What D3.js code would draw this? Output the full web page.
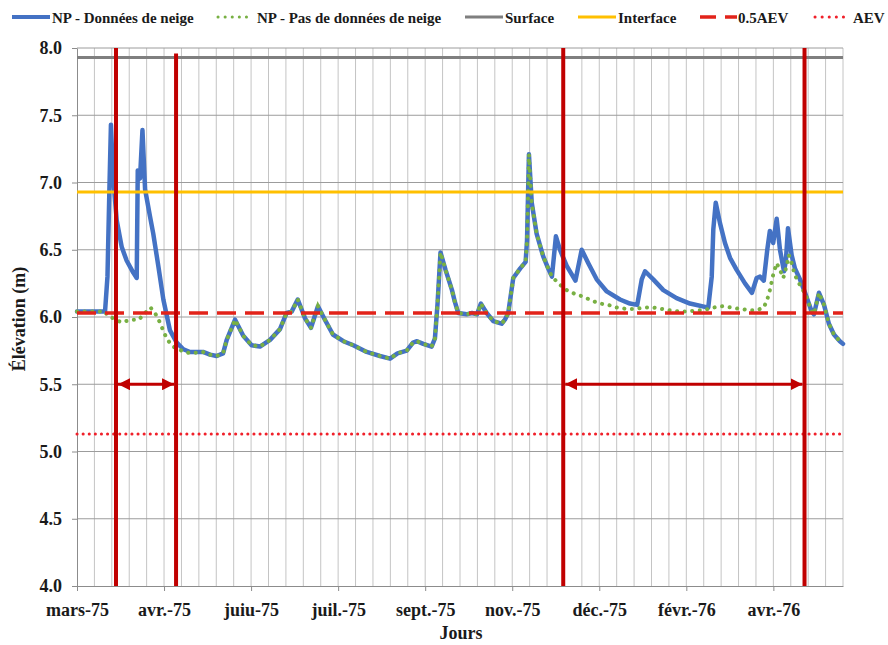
<!DOCTYPE html>
<html lang="fr">
<head>
<meta charset="utf-8">
<title>Élévation de la nappe</title>
<script src="https://cdn.jsdelivr.net/npm/d3@7"></script>
<style>
  html, body { margin: 0; padding: 0; background: #ffffff; }
  svg { display: block; font-family: "Liberation Serif", "Times New Roman", serif; font-weight: bold; }
</style>
</head>
<body>
<svg id="chart" width="888" height="645"></svg>
<script>
// Axis labels (category axis, one label every 5 grid intervals)
const xLabels = ["mars-75", "avr.-75", "juiu-75", "juil.-75", "sept.-75", "nov.-75", "déc.-75", "févr.-76", "avr.-76"];
const yTicks = [4.0, 4.5, 5.0, 5.5, 6.0, 6.5, 7.0, 7.5, 8.0];

// NP - with snow data (position along the axis, water level in m)
const snowDays = [0.00, 1.03, 1.61, 1.75, 1.87, 1.95, 2.07, 2.28, 2.57, 2.85, 3.23, 3.43, 3.49, 3.62, 3.76, 3.91, 4.19, 4.38, 4.67, 4.96,
  5.34, 5.73, 6.11, 6.49, 7.24, 7.64, 8.02, 8.39, 8.60, 9.08, 9.55, 10.03, 10.51, 11.09, 11.66, 12.04, 12.33, 12.68, 13.10, 13.44,
  13.84, 14.24, 14.70, 15.30, 15.87, 16.64, 17.40, 17.98, 18.41, 18.94, 19.30, 19.53, 19.89, 20.37, 20.56, 20.71, 20.88, 21.17, 21.54, 21.71,
  21.90, 22.38, 22.69, 22.98, 23.20, 23.53, 23.91, 24.39, 24.58, 24.77, 25.06, 25.45, 25.77, 25.85, 25.96, 26.12, 26.40, 26.78, 27.07, 27.28,
  27.51, 27.74, 28.13, 28.63, 28.99, 29.37, 29.85, 30.43, 31.19, 31.76, 32.18, 32.44, 32.63, 33.10, 33.68, 34.44, 35.21, 36.26, 36.46, 36.55,
  36.69, 36.93, 37.22, 37.51, 37.89, 38.37, 38.77, 39.04, 39.23, 39.45, 39.65, 39.80, 39.99, 40.19, 40.38, 40.61, 40.72, 40.84, 41.05, 41.24,
  41.53, 41.82, 42.20, 42.33, 42.62, 42.91, 43.19, 43.48, 43.82, 44.00];
const snowLevels = [6.04, 6.04, 6.04, 6.30, 7.00, 7.43, 7.05, 6.72, 6.52, 6.42, 6.33, 6.29, 7.09, 7.03, 7.39, 6.95, 6.75, 6.62, 6.38, 6.13,
  5.90, 5.81, 5.76, 5.74, 5.74, 5.72, 5.71, 5.73, 5.83, 5.98, 5.86, 5.79, 5.78, 5.83, 5.91, 6.03, 6.04, 6.13, 5.99, 5.92,
  6.08, 5.98, 5.87, 5.82, 5.79, 5.74, 5.71, 5.69, 5.73, 5.75, 5.81, 5.82, 5.80, 5.78, 5.84, 6.10, 6.48, 6.35, 6.20, 6.11,
  6.03, 6.02, 6.03, 6.02, 6.10, 6.03, 5.97, 5.95, 5.98, 6.03, 6.29, 6.36, 6.41, 6.57, 7.21, 6.85, 6.62, 6.45, 6.36, 6.30,
  6.60, 6.50, 6.38, 6.27, 6.50, 6.40, 6.28, 6.19, 6.13, 6.10, 6.09, 6.28, 6.34, 6.28, 6.20, 6.14, 6.10, 6.07, 6.30, 6.65,
  6.85, 6.70, 6.55, 6.44, 6.35, 6.25, 6.18, 6.29, 6.30, 6.27, 6.50, 6.64, 6.55, 6.73, 6.50, 6.34, 6.42, 6.66, 6.46, 6.36,
  6.28, 6.18, 6.04, 6.02, 6.18, 6.09, 5.95, 5.87, 5.82, 5.80];

// NP - without snow data
const noSnowDays = [0.00, 1.61, 1.70, 2.07, 2.56, 3.10, 3.55, 3.91, 4.23, 4.52, 4.76, 5.01, 5.20, 5.52, 6.01, 6.49, 7.24, 7.64, 8.02, 8.39,
  8.60, 9.08, 9.55, 10.03, 10.51, 11.09, 11.66, 12.04, 12.33, 12.68, 13.10, 13.44, 13.84, 14.24, 14.70, 15.30, 15.87, 16.64, 17.40, 17.98,
  18.41, 18.94, 19.30, 19.53, 19.89, 20.37, 20.56, 20.71, 20.88, 21.17, 21.54, 21.71, 21.90, 22.38, 22.69, 22.98, 23.20, 23.53, 23.91, 24.39,
  24.58, 24.77, 25.06, 25.45, 25.77, 25.85, 25.96, 26.12, 26.40, 26.78, 27.07, 27.28, 27.74, 28.13, 28.63, 29.11, 29.60, 30.04, 30.52, 31.00,
  31.57, 32.05, 32.53, 33.10, 33.58, 34.05, 34.63, 35.11, 35.59, 35.97, 36.55, 37.03, 37.60, 38.08, 38.65, 39.04, 39.45, 39.65, 39.80, 40.00,
  40.19, 40.38, 40.57, 40.76, 40.89, 41.05, 41.24, 41.44, 41.63, 41.82, 42.20, 42.33, 42.62, 42.91, 43.19, 43.48, 43.82, 44.00];
const noSnowLevels = [6.04, 6.04, 6.02, 5.99, 5.96, 5.98, 5.98, 6.03, 6.07, 6.02, 5.96, 5.88, 5.83, 5.78, 5.75, 5.73, 5.74, 5.72, 5.71, 5.73,
  5.83, 5.98, 5.86, 5.79, 5.78, 5.83, 5.91, 6.03, 6.04, 6.13, 5.99, 5.92, 6.08, 5.98, 5.87, 5.82, 5.79, 5.74, 5.71, 5.69,
  5.73, 5.75, 5.81, 5.82, 5.80, 5.78, 5.84, 6.10, 6.48, 6.35, 6.20, 6.11, 6.03, 6.02, 6.03, 6.02, 6.10, 6.03, 5.97, 5.95,
  5.98, 6.03, 6.29, 6.36, 6.41, 6.57, 7.21, 6.85, 6.62, 6.45, 6.36, 6.30, 6.24, 6.20, 6.17, 6.15, 6.12, 6.10, 6.09, 6.07,
  6.06, 6.06, 6.07, 6.07, 6.06, 6.05, 6.04, 6.04, 6.05, 6.05, 6.07, 6.08, 6.07, 6.06, 6.05, 6.05, 6.07, 6.13, 6.20, 6.32,
  6.40, 6.35, 6.29, 6.38, 6.46, 6.40, 6.31, 6.26, 6.21, 6.18, 6.04, 6.02, 6.18, 6.09, 5.95, 5.87, 5.82, 5.80];

// Reference elevations (m)
const surfaceLevel = 7.93;
const interfaceLevel = 6.93;
const halfAevLevel = 6.03;
const aevLevel = 5.13;

// Period boundaries and the arrow spans between them
const boundaryDays = [2.24, 5.69, 27.93, 41.79];
const boundaryTops = [8.0, 7.96, 8.0, 8.0];
const periodSpans = [[2.24, 5.69], [27.93, 41.79]];
const arrowLevel = 5.5;

const svg = d3.select("#chart");

const x = d3.scaleLinear().domain([0, 44]).range([77, 843]);
const y = d3.scaleLinear().domain([4, 8]).range([586, 48]);

// Vertical gridlines (every interval)
svg.append("g")
  .selectAll("line")
  .data(d3.range(1, 45))
  .join("line")
  .attr("x1", d => x(d)).attr("x2", d => x(d))
  .attr("y1", y(8)).attr("y2", y(4))
  .attr("stroke", "#c4c4c4").attr("stroke-width", 1);

// Horizontal gridlines
svg.append("g")
  .selectAll("line")
  .data(yTicks.filter(d => d > 4))
  .join("line")
  .attr("x1", x(0)).attr("x2", x(44))
  .attr("y1", d => y(d)).attr("y2", d => y(d))
  .attr("stroke", "#9c9c9c").attr("stroke-width", 1);

// Axes
const xAxis = svg.append("g")
  .attr("transform", `translate(0,${y(4)})`)
  .call(d3.axisBottom(x)
    .tickValues(d3.range(0, 41, 5))
    .tickFormat(d => xLabels[d / 5])
    .tickSize(5)
    .tickSizeOuter(0));
xAxis.select(".domain").attr("stroke", "#8c8c8c");
xAxis.selectAll(".tick line").attr("stroke", "#8c8c8c");
xAxis.selectAll(".tick text")
  .attr("y", 14)
  .attr("dy", "0.9em")
  .attr("font-size", 18)
  .attr("font-family", "'Liberation Serif', 'Times New Roman', serif")
  .attr("font-weight", "bold")
  .attr("fill", "#1a1a1a");

const yAxis = svg.append("g")
  .attr("transform", `translate(${x(0)},0)`)
  .call(d3.axisLeft(y)
    .tickValues(yTicks)
    .tickFormat(d3.format(".1f"))
    .tickSize(5)
    .tickSizeOuter(0));
yAxis.select(".domain").attr("stroke", "#8c8c8c");
yAxis.selectAll(".tick line").attr("stroke", "#8c8c8c");
yAxis.selectAll(".tick text")
  .attr("x", -15)
  .attr("font-size", 18)
  .attr("font-family", "'Liberation Serif', 'Times New Roman', serif")
  .attr("font-weight", "bold")
  .attr("fill", "#1a1a1a");

// Axis titles
svg.append("text")
  .attr("transform", `translate(25,${(y(8) + y(4)) / 2 + 2}) rotate(-90)`)
  .attr("text-anchor", "middle")
  .attr("font-size", 18)
  .attr("fill", "#1a1a1a")
  .text("Élévation (m)");

svg.append("text")
  .attr("x", 461).attr("y", 639)
  .attr("text-anchor", "middle")
  .attr("font-size", 18)
  .attr("fill", "#1a1a1a")
  .text("Jours");

// Reference levels
const refs = svg.append("g");
refs.append("line")
  .attr("x1", x(0)).attr("x2", x(44))
  .attr("y1", y(surfaceLevel)).attr("y2", y(surfaceLevel))
  .attr("stroke", "#7f7f7f").attr("stroke-width", 3);
refs.append("line")
  .attr("x1", x(0)).attr("x2", x(44))
  .attr("y1", y(interfaceLevel)).attr("y2", y(interfaceLevel))
  .attr("stroke", "#ffc000").attr("stroke-width", 3);
refs.append("line")
  .attr("x1", x(0)).attr("x2", x(44))
  .attr("y1", y(aevLevel)).attr("y2", y(aevLevel))
  .attr("stroke", "#f0202a").attr("stroke-width", 3)
  .attr("stroke-linecap", "round")
  .attr("stroke-dasharray", "0.1 6");

// Water level series
const pts = (days, levels) => days.map((d, i) => [d, levels[i]]);
const line = d3.line().x(d => x(d[0])).y(d => y(d[1])).curve(d3.curveLinear);

svg.append("path")
  .datum(pts(snowDays, snowLevels))
  .attr("d", line)
  .attr("fill", "none")
  .attr("stroke", "#4472c4")
  .attr("stroke-width", 4.5)
  .attr("stroke-linejoin", "round")
  .attr("stroke-linecap", "round");

svg.append("path")
  .datum(pts(noSnowDays, noSnowLevels))
  .attr("d", line)
  .attr("fill", "none")
  .attr("stroke", "#78b043")
  .attr("stroke-width", 4)
  .attr("stroke-linecap", "round")
  .attr("stroke-dasharray", "0.1 7.5");

// 0.5 AEV dashed line on top of the series
refs.raise();
svg.append("line")
  .attr("x1", x(0)).attr("x2", x(44))
  .attr("y1", y(halfAevLevel)).attr("y2", y(halfAevLevel))
  .attr("stroke", "#e2231a").attr("stroke-width", 3.5)
  .attr("stroke-dasharray", "19 9");

// Period boundaries
svg.append("g")
  .selectAll("line")
  .data(boundaryDays)
  .join("line")
  .attr("x1", d => x(d)).attr("x2", d => x(d))
  .attr("y1", (d, i) => y(boundaryTops[i])).attr("y2", y(4))
  .attr("stroke", "#c00000").attr("stroke-width", 4);

// Double-headed arrows spanning each period
const defs = svg.append("defs");
defs.append("marker")
  .attr("id", "arrowEnd")
  .attr("viewBox", "0 0 10 10")
  .attr("refX", 10).attr("refY", 5)
  .attr("markerWidth", 4).attr("markerHeight", 4)
  .attr("markerUnits", "strokeWidth")
  .attr("orient", "auto-start-reverse")
  .append("path")
  .attr("d", "M0,0 L10,5 L0,10 Z")
  .attr("fill", "#c00000");

svg.append("g")
  .selectAll("line")
  .data(periodSpans)
  .join("line")
  .attr("x1", d => x(d[0]) + 2).attr("x2", d => x(d[1]) - 2)
  .attr("y1", y(arrowLevel)).attr("y2", y(arrowLevel))
  .attr("stroke", "#c00000").attr("stroke-width", 3)
  .attr("marker-start", "url(#arrowEnd)")
  .attr("marker-end", "url(#arrowEnd)");

// Legend
const legendItems = [
  { label: "NP - Données de neige", x0: 12, x1: 50, tx: 52, color: "#4472c4", width: 4, dash: null, cap: "butt" },
  { label: "NP - Pas de données de neige", x0: 218, x1: 250, tx: 257, color: "#78b043", width: 3, dash: "0.1 7", cap: "round" },
  { label: "Surface", x0: 465, x1: 503, tx: 505, color: "#7f7f7f", width: 3, dash: null, cap: "butt" },
  { label: "Interface", x0: 578, x1: 616, tx: 618, color: "#ffc000", width: 3, dash: null, cap: "butt" },
  { label: "0.5AEV", x0: 700, x1: 737, tx: 738, color: "#e2231a", width: 3.5, dash: "16 9", cap: "butt" },
  { label: "AEV", x0: 815, x1: 845, tx: 853, color: "#f0202a", width: 3, dash: "0.1 7", cap: "round" }
];

const legend = svg.append("g").selectAll("g").data(legendItems).join("g");
legend.append("line")
  .attr("x1", d => d.x0).attr("x2", d => d.x1)
  .attr("y1", 17).attr("y2", 17)
  .attr("stroke", d => d.color)
  .attr("stroke-width", d => d.width)
  .attr("stroke-linecap", d => d.cap)
  .attr("stroke-dasharray", d => d.dash);
legend.append("text")
  .attr("x", d => d.tx).attr("y", 23)
  .attr("font-size", 15)
  .attr("fill", "#1a1a1a")
  .text(d => d.label);
</script>
</body>
</html>
